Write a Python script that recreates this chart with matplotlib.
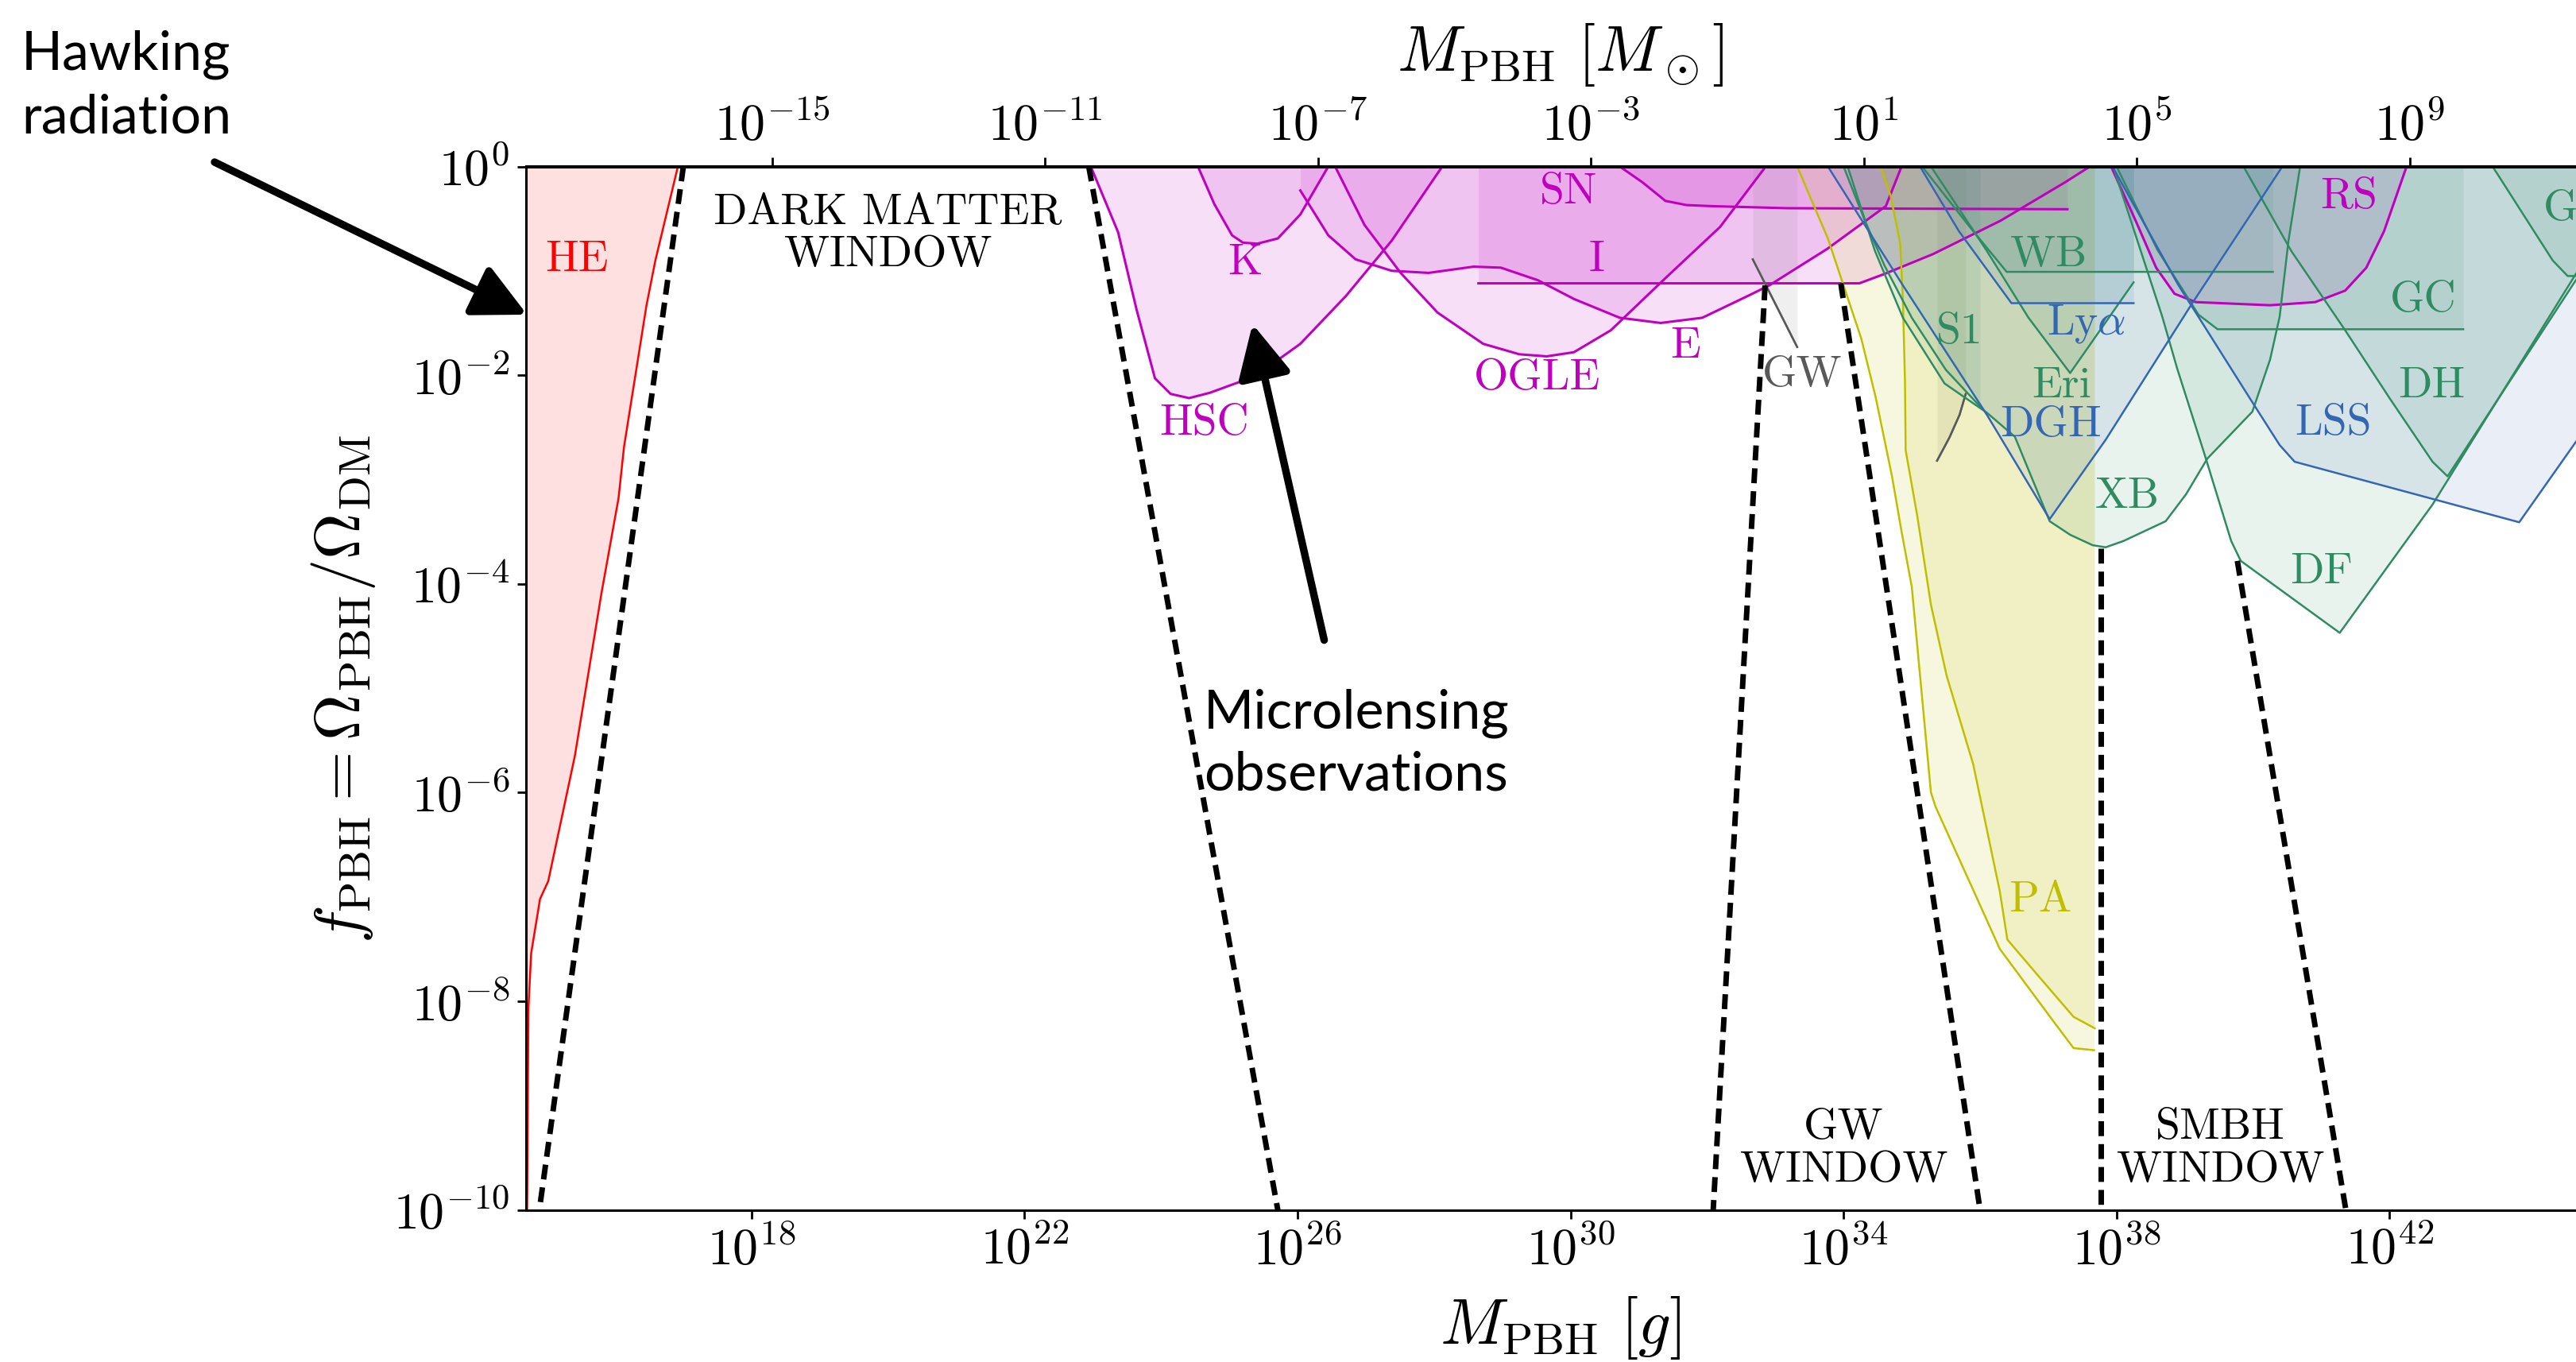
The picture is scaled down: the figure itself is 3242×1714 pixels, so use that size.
import numpy as np
import matplotlib
matplotlib.use("Agg")
import matplotlib.pyplot as plt
from matplotlib.ticker import NullLocator

plt.rcParams.update({
    "font.family": "serif",
    "font.serif": ["cmr10"],
    "mathtext.fontset": "cm",
    "axes.formatter.use_mathtext": True,
    "axes.unicode_minus": False,
})

MSUN_G = 1.989e33  # grams per solar mass

# ---- constraint boundaries: log10(M / g) and log10(f_PBH) ----
he_logm = [16.92, 16.59, 16.46, 16.13, 16.05, 15.80, 15.41, 15.02, 14.90, 14.77, 14.73, 14.71]
he_logf = [0.0, -0.90, -1.33, -2.69, -3.18, -4.09, -5.65, -6.85, -7.02, -7.54, -8.06, -10.0]

hsc_logm = [22.97, 23.37, 23.64, 23.91, 24.14, 24.41, 24.71, 25.38, 26.04, 26.71, 27.38, 28.12]
hsc_logf = [0.0, -0.63, -1.37, -2.03, -2.18, -2.22, -2.17, -2.01, -1.70, -1.24, -0.71, 0.0]

k_logm = [24.54, 24.78, 25.04, 25.20, 25.41, 25.71, 26.04, 26.45]
k_logf = [0.0, -0.36, -0.66, -0.73, -0.74, -0.69, -0.46, 0.0]

ogle_logm = [26.55, 26.98, 27.51, 28.05, 28.72, 29.25, 29.65, 30.05, 30.59, 31.39, 32.19, 32.86]
ogle_logf = [0.0, -0.56, -1.02, -1.40, -1.70, -1.80, -1.82, -1.78, -1.57, -1.07, -0.58, 0.0]

e_logm = [26.04, 26.45, 26.85, 27.38, 27.92, 28.58, 28.98, 29.52, 30.05, 30.72, 31.32,
          31.93, 32.60, 32.91, 33.76, 34.62, 34.85]
e_logf = [-0.23, -0.66, -0.89, -1.00, -1.02, -0.96, -0.97, -1.09, -1.27, -1.45, -1.50,
          -1.45, -1.24, -1.14, -0.79, -0.38, 0.0]

sn_logm = [30.72, 31.05, 31.39, 31.70, 32.06, 33.18, 37.28]
sn_logf = [0.0, -0.15, -0.33, -0.37, -0.38, -0.40, -0.41]

i_logm = [28.65, 34.23, 34.60, 35.31, 36.30, 37.25, 37.61]
i_logf = [-1.12, -1.12, -1.03, -0.84, -0.52, -0.15, 0.0]

gw1_logm = [32.67, 33.32]
gw1_logf = [-0.89, -1.73]

gw2_logm = [35.37, 35.55, 35.70, 35.79]
gw2_logf = [-2.82, -2.60, -2.38, -2.18]

pa_out_logm = [33.32, 33.77, 34.26, 34.47, 34.71, 34.85, 35.00, 35.28, 35.35, 35.89, 36.29,
               37.06, 37.37, 37.67]
pa_out_logf = [0.0, -0.69, -1.65, -2.21, -2.97, -3.50, -4.03, -6.00, -6.14, -6.92, -7.50,
               -8.18, -8.45, -8.47]

pa_in_logm = [34.54, 34.69, 34.83, 34.87, 34.90, 34.91, 35.08, 35.28, 35.51, 35.90, 36.29,
              36.40, 36.87, 37.37, 37.68]
pa_in_logf = [0.0, -0.28, -0.74, -1.29, -2.06, -2.72, -3.35, -4.20, -4.88, -5.73, -6.95,
              -7.41, -7.77, -8.15, -8.26]

s1_logm = [34.00, 34.30, 34.60, 35.00, 35.50, 36.00]
s1_logf = [0.0, -0.50, -0.95, -1.45, -1.95, -2.30]

wb_logm = [35.15, 35.85, 36.39, 40.29]
wb_logf = [0.0, -0.58, -1.01, -1.01]

lya_logm = [35.12, 35.69, 36.46, 38.25]
lya_logf = [0.0, -0.62, -1.31, -1.31]

eri_logm = [35.28, 36.10, 36.71, 37.32, 38.25]
eri_logf = [0.0, -0.81, -1.45, -1.98, -1.11]

dgh_logm = [33.77, 34.87, 36.10, 37.02, 37.84, 39.11, 40.43]
dgh_logf = [0.0, -1.14, -2.38, -3.38, -2.62, -1.31, 0.0]

xb_logm = [34.06, 34.46, 34.87, 35.48, 36.10, 36.51, 37.02, 37.32, 37.65, 37.84, 38.10,
           38.72, 39.02, 39.33, 39.99, 40.25, 40.39, 40.52, 40.69]
xb_logf = [0.0, -0.81, -1.45, -2.08, -2.36, -2.59, -3.40, -3.53, -3.63, -3.65, -3.59,
           -3.40, -3.14, -2.80, -2.35, -1.85, -1.44, -0.71, 0.0]

rs_logm = [37.92, 38.28, 38.58, 38.85, 39.16, 40.25, 40.91, 41.35, 41.66, 41.92, 42.25]
rs_logf = [0.0, -0.52, -0.97, -1.22, -1.30, -1.33, -1.30, -1.19, -0.97, -0.62, 0.0]

gc_logm = [38.00, 38.60, 39.20, 39.48, 43.08]
gc_logf = [0.0, -0.80, -1.42, -1.56, -1.56]

df_logm = [37.95, 38.67, 38.89, 39.29, 39.68, 39.82, 41.27, 42.63, 44.73, 45.00]
df_logf = [0.0, -1.44, -1.94, -2.76, -3.59, -3.78, -4.47, -3.24, -1.03, -0.75]

dh_logm = [39.86, 40.56, 41.35, 42.01, 42.63, 42.85, 44.73, 45.00]
dh_logf = [0.0, -0.81, -1.57, -2.23, -2.83, -2.97, -1.09, -0.82]

lss_logm = [37.94, 38.90, 39.99, 40.39, 40.61, 43.90, 44.73, 45.00]
lss_logf = [0.0, -1.13, -2.26, -2.67, -2.83, -3.41, -2.64, -2.39]

g_logm = [43.51, 44.39, 44.61, 45.00]
g_logf = [0.0, -0.90, -1.05, -1.05]

# ---- window boundaries (dashed) ----
win_he_logm, win_he_logf = [17.00, 14.89], [0.0, -10.0]
win_dm_logm, win_dm_logf = [22.94, 25.71], [0.0, -10.0]
win_gw_l_logm, win_gw_l_logf = [32.85, 32.09], [-1.14, -10.0]
win_gw_r_logm, win_gw_r_logf = [33.96, 36.00], [-1.12, -10.0]
win_sm_l_logm, win_sm_l_logf = [37.77, 37.77], [-3.66, -10.0]
win_sm_r_logm, win_sm_r_logf = [39.77, 41.36], [-3.78, -10.0]

bottom_ticks = [1e18, 1e22, 1e26, 1e30, 1e34, 1e38, 1e42]
top_ticks = [1e-15, 1e-11, 1e-7, 1e-3, 1e1, 1e5, 1e9]
left_ticks = [1e0, 1e-2, 1e-4, 1e-6, 1e-8, 1e-10]

MAG = (0.75, 0.0, 0.75)
YEL = (0.75, 0.75, 0.0)
GRN = "#2e8b62"
BLU = "#3366b3"
GRY = "0.35"

W, H = 3242, 1715
fig = plt.figure(figsize=(W / 200, H / 200), dpi=200)
ax = fig.add_axes([662.4 / W, 191.5 / H, 2602.6 / W, 1313 / H])
ax.set_xscale("log")
ax.set_yscale("log")
ax.set_xlim(10 ** 14.699, 1e45)
ax.set_ylim(1e-10, 1.0)


def p10(v):
    return 10.0 ** np.asarray(v, dtype=float)


def region(logm, logf, color, alpha=0.12, lw=0.9):
    m, f = p10(logm), p10(logf)
    ax.fill_between(m, f, 1.0, color=color, alpha=alpha, lw=0, zorder=1)
    ax.plot(m, f, color=color, lw=lw, zorder=3)


# Hawking evaporation: excluded to the left of the curve
he_m, he_f = p10(he_logm), p10(he_logf)
ax.fill_betweenx(he_f, 10 ** 14.699, he_m, color="r", alpha=0.12, lw=0, zorder=1)
ax.plot(he_m, he_f, color="r", lw=0.9, zorder=3)

for lm, lf in [(hsc_logm, hsc_logf), (k_logm, k_logf), (ogle_logm, ogle_logf),
               (e_logm, e_logf), (sn_logm, sn_logf), (i_logm, i_logf), (rs_logm, rs_logf)]:
    region(lm, lf, MAG, lw=1.1)

region(gw1_logm, gw1_logf, "0.5", alpha=0.12, lw=0.9)
ax.plot(p10(gw1_logm), p10(gw1_logf), color=GRY, lw=0.9, zorder=3)
region(gw2_logm, gw2_logf, "0.5", alpha=0.12, lw=0.9)
ax.plot(p10(gw2_logm), p10(gw2_logf), color=GRY, lw=0.9, zorder=3)

region(pa_out_logm, pa_out_logf, YEL)
region(pa_in_logm, pa_in_logf, YEL)

for lm, lf in [(s1_logm, s1_logf), (wb_logm, wb_logf), (eri_logm, eri_logf),
               (xb_logm, xb_logf), (gc_logm, gc_logf), (df_logm, df_logf),
               (dh_logm, dh_logf), (g_logm, g_logf)]:
    region(lm, lf, GRN, alpha=0.10)

for lm, lf in [(lya_logm, lya_logf), (dgh_logm, dgh_logf), (lss_logm, lss_logf)]:
    region(lm, lf, BLU, alpha=0.10)

# dashed window edges
for lm, lf in [(win_he_logm, win_he_logf), (win_dm_logm, win_dm_logf),
               (win_gw_l_logm, win_gw_l_logf), (win_gw_r_logm, win_gw_r_logf),
               (win_sm_l_logm, win_sm_l_logf), (win_sm_r_logm, win_sm_r_logf)]:
    ax.plot(p10(lm), p10(lf), color="k", lw=2.5, dashes=(2.7, 1.45), zorder=4)

# constraint names
labels = [
    ("HE", 15.44, -0.89, "r"), ("HSC", 24.63, -2.46, MAG), ("K", 25.23, -0.92, MAG),
    ("OGLE", 29.51, -2.02, MAG), ("E", 31.68, -1.72, MAG), ("I", 30.39, -0.89, MAG),
    ("SN", 29.97, -0.24, MAG), ("GW", 33.39, -1.99, GRY), ("S1", 35.70, -1.58, GRN),
    ("WB", 37.00, -0.84, GRN), (r"Ly$\alpha$", 37.56, -1.50, BLU), ("Eri", 37.20, -2.10, GRN),
    ("DGH", 37.03, -2.47, BLU), ("XB", 38.16, -3.16, GRN), ("PA", 36.88, -7.03, YEL),
    ("RS", 41.40, -0.29, MAG), ("GC", 42.49, -1.28, GRN), ("DH", 42.61, -2.10, GRN),
    ("LSS", 41.17, -2.46, BLU), ("DF", 41.00, -3.88, GRN),
]
for txt, lm, lf, c in labels:
    ax.text(10 ** lm, 10 ** lf, txt, color=c, fontsize=20, ha="center", va="center", zorder=5)
ax.text(10 ** 44.25, 10 ** -0.40, "G", color=GRN, fontsize=20, ha="left", va="center", zorder=5)

for txt, lm, lf in [("DARK MATTER\nWINDOW", 20.0, -0.64), ("GW\nWINDOW", 34.0, -9.41),
                    ("SMBH\nWINDOW", 39.52, -9.41)]:
    ax.text(10 ** lm, 10 ** lf, txt, color="k", fontsize=20, ha="center", va="center",
            linespacing=1.1, zorder=5)

# annotations
arrow = dict(arrowstyle="-|>,head_length=0.6,head_width=0.3", lw=3.4, color="k",
             mutation_scale=34, shrinkA=0, shrinkB=0)
ax.annotate("", xy=(10 ** 14.71, 10 ** -1.42), xycoords="data",
            xytext=(270 / W, 1 - 205 / H), textcoords="figure fraction",
            arrowprops=arrow, zorder=6, annotation_clip=False)
ax.annotate("", xy=(10 ** 25.34, 10 ** -1.51), xycoords="data",
            xytext=(10 ** 26.39, 10 ** -4.54), textcoords="data",
            arrowprops=arrow, zorder=6)
fig.text(27 / W, 1 - 108 / H, "Hawking\nradiation", family="Lato", fontsize=24.5,
         ha="left", va="center", linespacing=1.35)
ax.text(10 ** 26.86, 10 ** -5.53, "Microlensing\nobservations", family="Lato", fontsize=24.5,
        ha="center", va="center", linespacing=1.3, zorder=6)

# axes and ticks
ax.set_xticks(bottom_ticks)
ax.set_yticks(left_ticks)
ax.xaxis.set_minor_locator(NullLocator())
ax.yaxis.set_minor_locator(NullLocator())
ax.tick_params(which="major", direction="out", length=4, width=1, labelsize=23)
for sp in ax.spines.values():
    sp.set_linewidth(1.1)
    sp.set_zorder(7)

ax.set_xlabel(r"$M_{\rm PBH}\ [g]$", fontsize=29)
ax.xaxis.set_label_coords(0.5, -0.080)
ax.set_ylabel(r"$f_{\rm PBH} = \Omega_{\rm PBH}/\Omega_{\rm DM}$", fontsize=29)
ax.yaxis.set_label_coords(-0.072, 0.5)

sec = ax.secondary_xaxis("top", functions=(lambda m: m / MSUN_G, lambda s: s * MSUN_G))
sec.set_xticks(top_ticks)
sec.xaxis.set_minor_locator(NullLocator())
sec.tick_params(which="major", direction="out", length=4, width=1, labelsize=23, pad=3.5)
sec.spines["top"].set_linewidth(1.1)
sec.set_xlabel(r"$M_{\rm PBH}\ [M_\odot]$", fontsize=29, labelpad=14)

fig.savefig("out.png", dpi=200, facecolor="white")
